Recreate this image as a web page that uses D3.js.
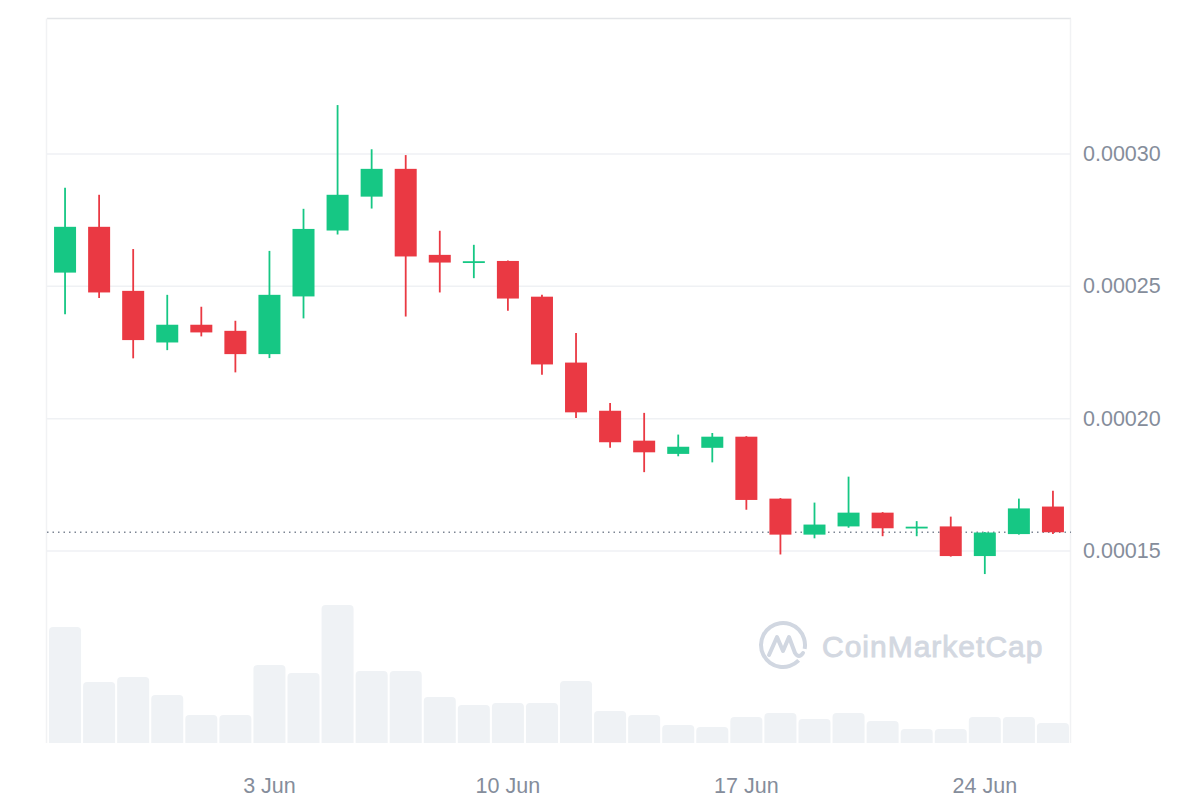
<!DOCTYPE html>
<html>
<head>
<meta charset="utf-8">
<script src="https://cdn.jsdelivr.net/npm/d3@7"></script>
<style>
  html, body { margin: 0; padding: 0; background: #fff; }
  svg text { font-family: "Liberation Sans", Arial, sans-serif; }
</style>
</head>
<body>
<svg id="chart"></svg>
<script>
// chart size
const width = 1200;
const height = 800;

// one candle per day, 28 May - 26 Jun
const days = ["28 May", "29 May", "30 May", "31 May", "1 Jun", "2 Jun", "3 Jun", "4 Jun", "5 Jun", "6 Jun",
    "7 Jun", "8 Jun", "9 Jun", "10 Jun", "11 Jun", "12 Jun", "13 Jun", "14 Jun", "15 Jun", "16 Jun",
    "17 Jun", "18 Jun", "19 Jun", "20 Jun", "21 Jun", "22 Jun", "23 Jun", "24 Jun", "25 Jun", "26 Jun"];

const opens = [0.0002550, 0.0002723, 0.0002481, 0.0002286, 0.0002353, 0.0002330, 0.0002242, 0.0002460, 0.0002709, 0.0002837,
    0.0002942, 0.0002617, 0.0002590, 0.0002594, 0.0002459, 0.0002210, 0.0002028, 0.0001915, 0.0001865, 0.0001888,
    0.0001930, 0.0001696, 0.0001560, 0.0001591, 0.0001643, 0.0001586, 0.0001591, 0.0001479, 0.0001562, 0.0001666];
const highs = [0.0002871, 0.0002844, 0.0002639, 0.0002466, 0.0002421, 0.0002368, 0.0002632, 0.0002791, 0.0003183, 0.0003016,
    0.0002994, 0.0002708, 0.0002655, 0.0002596, 0.0002466, 0.0002322, 0.0002057, 0.0002020, 0.0001938, 0.0001944,
    0.0001932, 0.0001698, 0.0001681, 0.0001779, 0.0001645, 0.0001611, 0.0001628, 0.0001570, 0.0001696, 0.0001726];
const lows = [0.0002393, 0.0002454, 0.0002226, 0.0002257, 0.0002309, 0.0002173, 0.0002227, 0.0002377, 0.0002694, 0.0002792,
    0.0002384, 0.0002475, 0.0002529, 0.0002406, 0.0002164, 0.0002001, 0.0001888, 0.0001796, 0.0001856, 0.0001833,
    0.0001654, 0.0001485, 0.0001546, 0.0001586, 0.0001554, 0.0001554, 0.0001477, 0.0001411, 0.0001560, 0.0001562];
const closes = [0.0002723, 0.0002475, 0.0002295, 0.0002353, 0.0002324, 0.0002242, 0.0002466, 0.0002715, 0.0002844, 0.0002942,
    0.0002611, 0.0002588, 0.0002593, 0.0002452, 0.0002203, 0.0002022, 0.0001909, 0.0001871, 0.0001892, 0.0001930,
    0.0001691, 0.0001560, 0.0001598, 0.0001643, 0.0001584, 0.0001590, 0.0001479, 0.0001568, 0.0001659, 0.0001569];

// traded volume, relative units
const volumes = [116, 61, 66, 48, 28, 28, 78, 70, 138, 72,
    72, 46, 38, 40, 40, 62, 32, 28, 18, 16,
    26, 30, 24, 30, 22, 14, 14, 26, 26, 20];

const priceTicks = [0.00015, 0.00020, 0.00025, 0.00030, 0.00035];
const dayTicks = ["3 Jun", "10 Jun", "17 Jun", "24 Jun"];

const up = '#16c784';
const down = '#ea3943';
const labelColor = '#858d9b';

const plot = { left: 47, right: 1071, top: 18.5, bottom: 743 };

const svg = d3.select('svg#chart').attr('width', width).attr('height', height);

const x = d3.scaleBand()
    .domain(days)
    .range([plot.left, plot.right])
    .padding(0.06);

const y = d3.scaleLinear()
    .domain([0.00015, 0.00030])
    .range([550.5, 153.5]);

const yVol = d3.scaleLinear()
    .domain([0, 138])
    .range([plot.bottom, plot.bottom - 138]);

// frame: light top line, faint sides
svg.append('line')
    .attr('x1', plot.left).attr('x2', plot.right)
    .attr('y1', plot.top).attr('y2', plot.top)
    .attr('stroke', '#e3e5e8').attr('stroke-width', 1.5);
svg.append('line')
    .attr('x1', plot.left - 0.5).attr('x2', plot.left - 0.5)
    .attr('y1', plot.top).attr('y2', plot.bottom)
    .attr('stroke', '#f1f2f4').attr('stroke-width', 1.5);
svg.append('line')
    .attr('x1', plot.right - 0.5).attr('x2', plot.right - 0.5)
    .attr('y1', plot.top).attr('y2', plot.bottom)
    .attr('stroke', '#f1f2f4').attr('stroke-width', 1.5);

// horizontal grid + price labels on the right
const yAxis = d3.axisRight(y)
    .tickValues(priceTicks.filter(t => t < 0.00035))
    .tickSize(-(plot.right - plot.left))
    .tickPadding(12)
    .tickFormat(d3.format('.5f'));

const gy = svg.append('g')
    .attr('transform', `translate(${plot.right},0)`)
    .call(yAxis);
gy.select('.domain').remove();
gy.selectAll('line').attr('stroke', '#eff1f4').attr('stroke-width', 1.5);
gy.selectAll('text')
    .attr('fill', labelColor)
    .attr('font-size', 21.5)
    .attr('x', 12);

// volume bars with rounded tops
const r = 4;
svg.append('g')
    .selectAll('path')
    .data(days)
    .enter().append('path')
    .attr('fill', '#eff2f5')
    .attr('d', (d, i) => {
        const x0 = x(d), x1 = x(d) + x.bandwidth();
        const y0 = plot.bottom, y1 = yVol(volumes[i]);
        return `M${x0},${y0}V${y1 + r}Q${x0},${y1} ${x0 + r},${y1}H${x1 - r}Q${x1},${y1} ${x1},${y1 + r}V${y0}Z`;
    });

// watermark
const wm = svg.append('g').attr('transform', 'translate(783,645)');
wm.append('path')
    .attr('d', d3.arc()({ innerRadius: 20, outerRadius: 24, startAngle: 2.35, endAngle: 2 * Math.PI + 1.75 }))
    .attr('fill', '#d1d7e1');
wm.append('path')
    .attr('d', 'M-14,10 L-6,-8 L0,6 L6,-8 L12,8 Q16,14 20,8')
    .attr('fill', 'none')
    .attr('stroke', '#d1d7e1')
    .attr('stroke-width', 4)
    .attr('stroke-linejoin', 'round')
    .attr('stroke-linecap', 'round');
svg.append('text')
    .attr('x', 822).attr('y', 657)
    .attr('font-size', 30)
    .attr('letter-spacing', 1)
    .attr('fill', '#d3d8e1')
    .attr('stroke', '#d3d8e1')
    .attr('stroke-width', 0.9)
    .text('CoinMarketCap');

// current price dotted line
svg.append('line')
    .attr('x1', plot.left).attr('x2', plot.right)
    .attr('y1', y(closes[closes.length - 1])).attr('y2', y(closes[closes.length - 1]))
    .attr('stroke', '#7d8593')
    .attr('stroke-width', 1.5)
    .attr('stroke-dasharray', '1.5 4');

// candles
const candles = svg.append('g')
    .selectAll('g')
    .data(days)
    .enter().append('g');

const cx = d => x(d) + x.bandwidth() / 2;
const col = (d, i) => closes[i] >= opens[i] ? up : down;

candles.append('line')
    .attr('x1', cx).attr('x2', cx)
    .attr('y1', (d, i) => y(highs[i]))
    .attr('y2', (d, i) => y(lows[i]))
    .attr('stroke', col)
    .attr('stroke-width', 1.8);

const bodyW = 22;
candles.append('rect')
    .attr('x', d => cx(d) - bodyW / 2)
    .attr('width', bodyW)
    .attr('y', (d, i) => Math.min(y(opens[i]), y(closes[i])))
    .attr('height', (d, i) => Math.max(1.8, Math.abs(y(opens[i]) - y(closes[i]))))
    .attr('fill', col);

// date labels
const xAxis = d3.axisBottom(x)
    .tickValues(dayTicks)
    .tickSize(0)
    .tickPadding(0);
const gx = svg.append('g')
    .attr('transform', 'translate(0,778)')
    .call(xAxis);
gx.select('.domain').remove();
gx.selectAll('text')
    .attr('fill', labelColor)
    .attr('font-size', 21.5)
    .attr('dy', '0.71em');
</script>
</body>
</html>
